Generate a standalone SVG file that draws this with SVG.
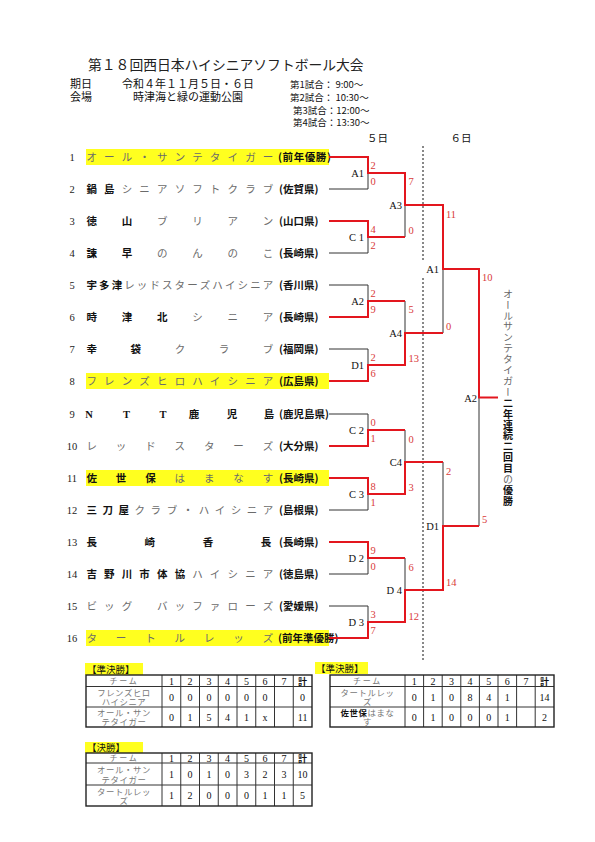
<svg xmlns="http://www.w3.org/2000/svg" width="595" height="842" viewBox="0 0 595 842">
<defs><style>
.jp{font-family:"Noto Sans CJK JP","Noto Sans CJK SC",sans-serif}
.sf{font-family:"Liberation Serif","DejaVu Serif",serif}
.nm{font-size:10.5px;fill:#6b6b6b}
.k{fill:#111;font-weight:bold}
.pf{font-size:10.5px;fill:#111;font-weight:bold}
.no{font-size:10.5px;fill:#222}
.sc{font-size:10.5px;fill:#d93a3a}
.lb{font-size:10.5px;fill:#111}
.hl{fill:#ffff1f}
.r{stroke:#e3161e;stroke-width:2;fill:none}
.b{stroke:#333;stroke-width:1;fill:none}
.dot{stroke:#111;stroke-width:1;stroke-dasharray:2 2;fill:none}
.tb{fill:none;stroke:#333;stroke-width:1}
.tbo{fill:none;stroke:#222;stroke-width:1.4}
.tn{font-size:8.4px;fill:#777}
.th{font-size:8px;fill:#777}
.tv{font-size:10px;fill:#111}
.tl{font-size:9.5px;fill:#111}
</style></defs>
<rect width="595" height="842" fill="#fff"/>

<g id="title"><text class="jp" x="88" y="70" font-size="13.8" fill="#222">第１８回西日本ハイシニアソフトボール大会</text></g>
<g id="info" class="jp" fill="#111">
<text x="70" y="88" font-size="11">期日</text>
<text x="70" y="101" font-size="11">会場</text>
<text x="122" y="88" font-size="11">令和４年１１月５日・６日</text>
<text x="133" y="101" font-size="11">時津海と緑の運動公園</text>
<text x="290" y="87.6" font-size="9.5">第1試合： 9:00～</text>
<text x="290" y="100.6" font-size="9.5">第2試合： 10:30～</text>
<text x="293" y="113.6" font-size="9.5">第3試合：12:00～</text>
<text x="293" y="125.6" font-size="9.5">第4試合：13:30～</text>
</g>
<g id="days" class="jp" font-size="10.5" fill="#111" text-anchor="middle">
<text x="377.5" y="142">５日</text>
<text x="461" y="142">６日</text>
</g>

<g id="highlights">
<rect class="hl" x="86" y="149" width="243" height="16"/>
<rect class="hl" x="86" y="373" width="243" height="16"/>
<rect class="hl" x="86" y="470" width="243" height="16"/>
<rect class="hl" x="86" y="630" width="243" height="16"/>
</g>

<g id="teams">
<g id="t1"><text class="sf no" x="72" y="160.7" text-anchor="middle">1</text>
<text class="jp nm" y="161" text-anchor="middle"><tspan x="91.7 109.3 127 144.6 162.2 179.9 197.5 215.1 232.7 250.4 268">オール・サンテタイガー</tspan></text>
<text class="jp pf" x="278" y="160.5" font-size="8.5" letter-spacing="0.6">(前年優勝)</text></g>
<g id="t2"><text class="sf no" x="72" y="192.7" text-anchor="middle">2</text>
<text class="jp nm" y="193" text-anchor="middle"><tspan class="k" x="91.7 109.3">鍋島</tspan><tspan x="127 144.6 162.2 179.9 197.5 215.1 232.7 250.4 268">シニアソフトクラブ</tspan></text>
<text class="jp pf" x="279" y="193">(佐賀県)</text></g>
<g id="t3"><text class="sf no" x="72" y="224.7" text-anchor="middle">3</text>
<text class="jp nm" y="225" text-anchor="middle"><tspan class="k" x="91.7 127">徳山</tspan><tspan x="162.2 197.5 232.7 268">ブリアン</tspan></text>
<text class="jp pf" x="279" y="225">(山口県)</text></g>
<g id="t4"><text class="sf no" x="72" y="256.7" text-anchor="middle">4</text>
<text class="jp nm" y="257" text-anchor="middle"><tspan class="k" x="91.7 127">諫早</tspan><tspan x="162.2 197.5 232.7 268">のんのこ</tspan></text>
<text class="jp pf" x="279" y="257">(長崎県)</text></g>
<g id="t5"><text class="sf no" x="72" y="288.7" text-anchor="middle">5</text>
<text class="jp nm" y="289" text-anchor="middle"><tspan class="k" x="91.7 104.3 116.9">宇多津</tspan><tspan x="129.5 142.1 154.7 167.3 179.8 192.4 205 217.6 230.2 242.8 255.4 268">レッドスターズハイシニア</tspan></text>
<text class="jp pf" x="279" y="289">(香川県)</text></g>
<g id="t6"><text class="sf no" x="72" y="320.7" text-anchor="middle">6</text>
<text class="jp nm" y="321" text-anchor="middle"><tspan class="k" x="91.7 127 162.2">時津北</tspan><tspan x="197.5 232.7 268">シニア</tspan></text>
<text class="jp pf" x="279" y="321">(長崎県)</text></g>
<g id="t7"><text class="sf no" x="72" y="352.7" text-anchor="middle">7</text>
<text class="jp nm" y="353" text-anchor="middle"><tspan class="k" x="91.7 135.8">幸袋</tspan><tspan x="179.9 223.9 268">クラブ</tspan></text>
<text class="jp pf" x="279" y="353">(福岡県)</text></g>
<g id="t8"><text class="sf no" x="72" y="384.7" text-anchor="middle">8</text>
<text class="jp nm" y="385" text-anchor="middle"><tspan x="91.7 109.3 127 144.6 162.2 179.9 197.5 215.1 232.7 250.4 268">フレンズヒロハイシニア</tspan></text>
<text class="jp pf" x="279" y="385">(広島県)</text></g>
<g id="t9"><text class="sf no" x="72" y="417.7" text-anchor="middle">9</text>
<text class="sf" y="418" font-size="10.5" font-weight="bold" fill="#111" text-anchor="middle"><tspan x="89 126.5 163">NTT</tspan></text>
<text class="jp nm" y="418" text-anchor="middle"><tspan class="k" x="194 232 269">鹿児島</tspan></text>
<text class="jp pf" x="279" y="417.5" font-size="8.3">(鹿児島県)</text></g>
<g id="t10"><text class="sf no" x="72" y="449.7" text-anchor="middle">10</text>
<text class="jp nm" y="450" text-anchor="middle"><tspan x="91.7 121.1 150.5 179.8 209.2 238.6 268">レッドスターズ</tspan></text>
<text class="jp pf" x="279" y="450">(大分県)</text></g>
<g id="t11"><text class="sf no" x="72" y="481.7" text-anchor="middle">11</text>
<text class="jp nm" y="482" text-anchor="middle"><tspan class="k" x="91.7 121.1 150.5">佐世保</tspan><tspan x="179.8 209.2 238.6 268">はまなす</tspan></text>
<text class="jp pf" x="279" y="482">(長崎県)</text></g>
<g id="t12"><text class="sf no" x="72" y="513.7" text-anchor="middle">12</text>
<text class="jp nm" y="514" text-anchor="middle"><tspan class="k" x="91.7 107.7 123.8">三刀屋</tspan><tspan x="139.8 155.8 171.9 187.9 203.9 219.9 236 252 268">クラブ・ハイシニア</tspan></text>
<text class="jp pf" x="279" y="514">(島根県)</text></g>
<g id="t13"><text class="sf no" x="72" y="545.7" text-anchor="middle">13</text>
<text class="jp nm" y="546" text-anchor="middle"><tspan class="k" x="91.7 149.8 207.9 266">長崎香長</tspan></text>
<text class="jp pf" x="279" y="546">(長崎県)</text></g>
<g id="t14"><text class="sf no" x="72" y="577.7" text-anchor="middle">14</text>
<text class="jp nm" y="578" text-anchor="middle"><tspan class="k" x="91.7 109.3 127 144.6 162.2 179.9">吉野川市体協</tspan><tspan x="197.5 215.1 232.7 250.4 268">ハイシニア</tspan></text>
<text class="jp pf" x="279" y="578">(徳島県)</text></g>
<g id="t15"><text class="sf no" x="72" y="609.7" text-anchor="middle">15</text>
<text class="jp nm" y="610" text-anchor="middle"><tspan x="91.7 109.3 127 144.6 162.2 179.9 197.5 215.1 232.7 250.4 268">ビッグ　バッファローズ</tspan></text>
<text class="jp pf" x="279" y="610">(愛媛県)</text></g>
<g id="t16"><text class="sf no" x="72" y="641.7" text-anchor="middle">16</text>
<text class="jp nm" y="642" text-anchor="middle"><tspan x="91.7 121.1 150.5 179.8 209.2 238.6 268">タートルレッズ</tspan></text>
<text class="jp pf" x="278" y="641.5" font-size="7.5">(前年準優勝)</text></g>
</g>

<g id="connectors">
<path class="dot" d="M423 146V262M423 278V662"/>
<g id="losers">
<path class="b" d="M329 189H368V173"/>
<path class="b" d="M329 253H368V237"/>
<path class="b" d="M329 285H368V301"/>
<path class="b" d="M329 349H368V365"/>
<path class="b" d="M329 414H368V430"/>
<path class="b" d="M329 510H368V494"/>
<path class="b" d="M329 574H368V558"/>
<path class="b" d="M329 606H368V622"/>
<path class="b" d="M405 205V237"/>
<path class="b" d="M405 301V333"/>
<path class="b" d="M405 430V462"/>
<path class="b" d="M405 558V590"/>
<path class="b" d="M443 269V333"/>
<path class="b" d="M443 462V526"/>
<path class="b" d="M479 397.5V526"/>
</g>
<g id="winners">
<path class="r" d="M329 157H368V173H405V205H443V269H479V397.5H498"/>
<path class="r" d="M329 221H368V237H405"/>
<path class="r" d="M329 317H368V301H405"/>
<path class="r" d="M329 381H368V365H405V333H443"/>
<path class="r" d="M329 446H368V430H405"/>
<path class="r" d="M329 478H368V494H405V462H443"/>
<path class="r" d="M329 542H368V558H405"/>
<path class="r" d="M329 638H368V622H405V590H443V526H479"/>
</g>
</g>

<g id="scores" class="sf sc">
<text x="370.5" y="168.5">2</text><text x="370.5" y="184.5">0</text>
<text x="370.5" y="232.5">4</text><text x="370.5" y="248.5">2</text>
<text x="370.5" y="296.5">2</text><text x="370.5" y="312.5">9</text>
<text x="370.5" y="360.5">2</text><text x="370.5" y="376.5">6</text>
<text x="370.5" y="425.5">0</text><text x="370.5" y="441.5">1</text>
<text x="370.5" y="489.5">8</text><text x="370.5" y="505.5">1</text>
<text x="370.5" y="553.5">9</text><text x="370.5" y="569.5">0</text>
<text x="370.5" y="617.5">3</text><text x="370.5" y="633.5">7</text>
<text x="408.5" y="184.5">7</text><text x="408.5" y="233.5">0</text>
<text x="408.5" y="312.5">5</text><text x="408.5" y="361.5">13</text>
<text x="408.5" y="442.5">0</text><text x="408.5" y="490.5">3</text>
<text x="408.5" y="570.5">6</text><text x="408.5" y="619.5">12</text>
<text x="446" y="217.5">11</text><text x="446" y="329.5">0</text>
<text x="446" y="474.5">2</text><text x="446" y="585.5">14</text>
<text x="482" y="280.5">10</text><text x="482" y="522.5">5</text>
</g>

<g id="matches" class="sf lb" text-anchor="end">
<g id="m-A1"><text x="364" y="176.7">A1</text></g>
<g id="m-C1"><text x="364" y="240.7">C 1</text></g>
<g id="m-A2"><text x="364" y="304.7">A2</text></g>
<g id="m-D1"><text x="364" y="368.7">D1</text></g>
<g id="m-C2"><text x="364" y="433.7">C 2</text></g>
<g id="m-C3"><text x="364" y="497.7">C 3</text></g>
<g id="m-D2"><text x="364" y="561.7">D 2</text></g>
<g id="m-D3"><text x="364" y="625.7">D 3</text></g>
<g id="m-A3"><text x="402" y="208.7">A3</text></g>
<g id="m-A4"><text x="402" y="336.7">A4</text></g>
<g id="m-C4"><text x="402" y="465.7">C4</text></g>
<g id="m-D4"><text x="402" y="593.7">D 4</text></g>
<g id="m-6A1"><text x="439" y="273.2">A1</text></g>
<g id="m-6D1"><text x="439" y="530">D1</text></g>
<g id="m-6A2"><text x="477" y="401.5">A2</text></g>
</g>

<g id="champion-note"><text class="jp" x="508" y="289" font-size="10" letter-spacing="0.9" style="writing-mode:vertical-rl"><tspan fill="#666">オールサンテタイガー</tspan><tspan fill="#111" font-weight="bold">二年連続二回目</tspan><tspan fill="#666">の</tspan><tspan fill="#111" font-weight="bold">優勝</tspan></text></g>

<g id="table-semi1">
<rect class="hl" x="85" y="663" width="58" height="12"/>
<text class="jp tl" x="87" y="672.5">【準決勝】</text>
<path class="tb" d="M86 686.5H312M86 707H312M162 675V727M180.75 675V727M199.5 675V727M218.25 675V727M237 675V727M255.75 675V727M274.5 675V727M293.25 675V727"/>
<rect class="tbo" x="86" y="675" width="226" height="52"/>
<text class="jp th" x="124" y="683.5" text-anchor="middle" letter-spacing="1.8">チーム</text>
<g class="sf tv" text-anchor="middle">
<text x="171.4" y="684.5">1</text><text x="190.1" y="684.5">2</text><text x="208.9" y="684.5">3</text><text x="227.6" y="684.5">4</text><text x="246.4" y="684.5">5</text><text x="265.1" y="684.5">6</text><text x="283.9" y="684.5">7</text><text class="jp" x="302.6" y="684.5" font-weight="bold" font-size="9">計</text>
<text x="171.4" y="700.5">0</text><text x="190.1" y="700.5">0</text><text x="208.9" y="700.5">0</text><text x="227.6" y="700.5">0</text><text x="246.4" y="700.5">0</text><text x="265.1" y="700.5">0</text><text x="302.6" y="700.5">0</text>
<text x="171.4" y="720.5">0</text><text x="190.1" y="720.5">1</text><text x="208.9" y="720.5">5</text><text x="227.6" y="720.5">4</text><text x="246.4" y="720.5">1</text><text x="265.1" y="720.5">x</text><text x="302.6" y="720.5">11</text>
</g>
<g class="jp tn" text-anchor="middle" letter-spacing="0.6">
<text><tspan x="124" y="695.8">フレンズヒロ</tspan><tspan x="124" y="704.8">ハイシニア</tspan></text>
<text><tspan x="124" y="716">オール・サン</tspan><tspan x="124" y="725">テタイガー</tspan></text>
</g>
</g>

<g id="table-semi2">
<rect class="hl" x="315" y="662" width="53" height="12"/>
<text class="jp tl" x="316" y="671.5">【準決勝】</text>
<path class="tb" d="M330 686.5H554M330 707H554M405 675V727M423.6 675V727M442.2 675V727M460.8 675V727M479.4 675V727M498 675V727M516.6 675V727M535.2 675V727"/>
<rect class="tbo" x="330" y="675" width="224" height="52"/>
<text class="jp th" x="367.5" y="683.5" text-anchor="middle" letter-spacing="1.8">チーム</text>
<g class="sf tv" text-anchor="middle">
<text x="414.3" y="684.5">1</text><text x="432.9" y="684.5">2</text><text x="451.5" y="684.5">3</text><text x="470.1" y="684.5">4</text><text x="488.7" y="684.5">5</text><text x="507.3" y="684.5">6</text><text x="525.9" y="684.5">7</text><text class="jp" x="544.5" y="684.5" font-weight="bold" font-size="9">計</text>
<text x="414.3" y="700.5">0</text><text x="432.9" y="700.5">1</text><text x="451.5" y="700.5">0</text><text x="470.1" y="700.5">8</text><text x="488.7" y="700.5">4</text><text x="507.3" y="700.5">1</text><text x="544.5" y="700.5">14</text>
<text x="414.3" y="720.5">0</text><text x="432.9" y="720.5">1</text><text x="451.5" y="720.5">0</text><text x="470.1" y="720.5">0</text><text x="488.7" y="720.5">0</text><text x="507.3" y="720.5">1</text><text x="544.5" y="720.5">2</text>
</g>
<g class="jp tn" text-anchor="middle" letter-spacing="0.6">
<text><tspan x="367.5" y="695.8">タートルレッ</tspan><tspan x="367.5" y="704.8">ズ</tspan></text>
<text><tspan x="367.5" y="716"><tspan fill="#111" font-weight="bold">佐世保</tspan>はまな</tspan><tspan x="367.5" y="725">す</tspan></text>
</g>
</g>

<g id="table-final">
<rect class="hl" x="85" y="742" width="58" height="11"/>
<text class="jp tl" x="87" y="751">【決勝】</text>
<path class="tb" d="M86 763H312M86 785H312M162 753V806M180.75 753V806M199.5 753V806M218.25 753V806M237 753V806M255.75 753V806M274.5 753V806M293.25 753V806"/>
<rect class="tbo" x="86" y="753" width="226" height="53"/>
<text class="jp th" x="124" y="760.8" text-anchor="middle" letter-spacing="1.8">チーム</text>
<g class="sf tv" text-anchor="middle">
<text x="171.4" y="761.5">1</text><text x="190.1" y="761.5">2</text><text x="208.9" y="761.5">3</text><text x="227.6" y="761.5">4</text><text x="246.4" y="761.5">5</text><text x="265.1" y="761.5">6</text><text x="283.9" y="761.5">7</text><text class="jp" x="302.6" y="761.5" font-weight="bold" font-size="9">計</text>
<text x="171.4" y="777.5">1</text><text x="190.1" y="777.5">0</text><text x="208.9" y="777.5">1</text><text x="227.6" y="777.5">0</text><text x="246.4" y="777.5">3</text><text x="265.1" y="777.5">2</text><text x="283.9" y="777.5">3</text><text x="302.6" y="777.5">10</text>
<text x="171.4" y="799">1</text><text x="190.1" y="799">2</text><text x="208.9" y="799">0</text><text x="227.6" y="799">0</text><text x="246.4" y="799">0</text><text x="265.1" y="799">1</text><text x="283.9" y="799">1</text><text x="302.6" y="799">5</text>
</g>
<g class="jp tn" text-anchor="middle" letter-spacing="0.6">
<text><tspan x="124" y="773">オール・サン</tspan><tspan x="124" y="782.5">テタイガー</tspan></text>
<text><tspan x="124" y="794.5">タートルレッ</tspan><tspan x="124" y="803.8">ズ</tspan></text>
</g>
</g>
</svg>
